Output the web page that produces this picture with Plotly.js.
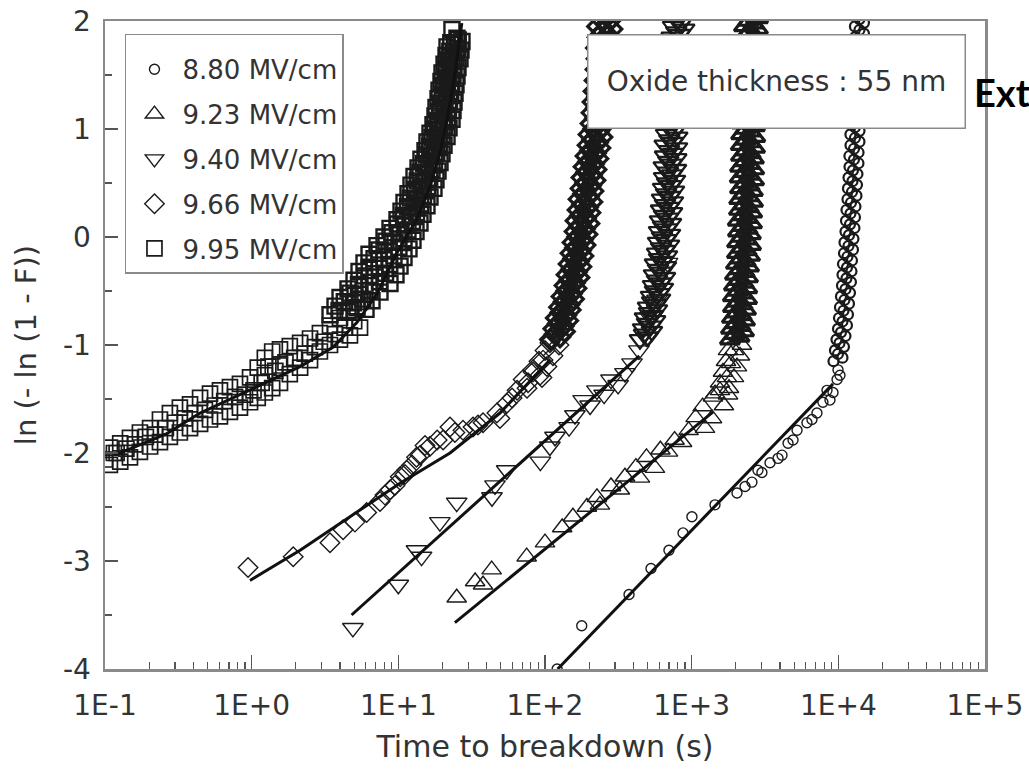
<!DOCTYPE html>
<html><head><meta charset="utf-8">
<script src="https://cdn.plot.ly/plotly-3.0.1.min.js"></script>
<style>html,body{margin:0;padding:0;background:#fff}</style>
</head><body>
<div id="chart" style="width:1029px;height:770px"></div>
<script>
// ---------------- data (time to breakdown in s, Weibull ordinate ln(-ln(1-F))) ----------------
const seriesNames = ["8.80 MV/cm", "9.23 MV/cm", "9.40 MV/cm", "9.66 MV/cm", "9.95 MV/cm"];
const xTickVals = [0.1, 1, 10, 100, 1000, 10000, 100000];
const xTickText = ["1E-1", "1E+0", "1E+1", "1E+2", "1E+3", "1E+4", "1E+5"];
const yTickVals = [-4, -3, -2, -1, 0, 1, 2];
const yTickText = ["-4", "-3", "-2", "-1", "0", "1", "2"];

// ---- 8.80 MV/cm (circles) ----
const t880Low = [121,178,374,528,700,873,1004,1442,2037,2312,2576,2831,3013,3420,3880,4130,4540,4910,5230,6110,6607,7150,7850,8370,8770,9200,9800,9950,10260];
const y880Low = [-4.00,-3.60,-3.31,-3.07,-2.90,-2.74,-2.59,-2.48,-2.37,-2.31,-2.27,-2.16,-2.18,-2.09,-2.05,-2.02,-1.91,-1.88,-1.79,-1.72,-1.69,-1.63,-1.53,-1.42,-1.51,-1.44,-1.32,-1.23,-1.28];
const t880Steep = [9269,9945,10671, 9488,10180,10923, 9715,10424,11185, 9944,10670,11449, 10103,10840,11631, 10261,11010,11814,
  10425,11186,12003, 10590,11363,12192, 10674,11453,12289, 10758,11543,12386, 10928,11725,12581, 11013,11817,12680,
  11187,12003,12879, 11275,12098,12981, 11364,12193,13083, 11546,12388,13292, 11637,12486,13397, 11728,12584,13503,
  11914,12783,13716, 11900,12790,13730, 12102,12985,13933, 12090,12975,13945, 12293,13190,14153, 12280,13200,14140,
  12487,13398,14376, 12495,13390,14385, 12586,13504,14490, 12685,13610,14604, 12784,13717,14718, 12790,13710,14725,
  12987,13934,14951, 12980,13940,14945];
const y880Steep = [-1.15,-1.083,-1.117, -1.05,-0.983,-1.017, -0.95,-0.883,-0.917, -0.85,-0.783,-0.817, -0.75,-0.683,-0.717, -0.65,-0.583,-0.617,
  -0.55,-0.483,-0.517, -0.45,-0.383,-0.417, -0.35,-0.283,-0.317, -0.25,-0.183,-0.217, -0.15,-0.083,-0.117, -0.05,0.017,-0.017,
  0.05,0.117,0.083, 0.15,0.217,0.183, 0.25,0.317,0.283, 0.35,0.417,0.383, 0.45,0.517,0.483, 0.55,0.617,0.583,
  0.65,0.717,0.683, 0.75,0.817,0.783, 0.85,0.917,0.883, 0.95,1.017,0.983, 1.05,1.117,1.083, 1.15,1.217,1.183,
  1.25,1.317,1.283, 1.35,1.417,1.383, 1.45,1.517,1.483, 1.55,1.617,1.583, 1.65,1.717,1.683, 1.75,1.817,1.783,
  1.85,1.917,1.883, 1.95,2.017,1.983];

// ranks of the steep (intrinsic) part shared by the 9.23 / 9.40 / 9.66 MV/cm samples
const ySteep4 = [-0.95,-0.90,-0.925,-0.875, -0.85,-0.80,-0.825,-0.775, -0.75,-0.70,-0.725,-0.675, -0.65,-0.60,-0.625,-0.575,
  -0.55,-0.50,-0.525,-0.475, -0.45,-0.40,-0.425,-0.375, -0.35,-0.30,-0.325,-0.275, -0.25,-0.20,-0.225,-0.175,
  -0.15,-0.10,-0.125,-0.075, -0.05,0.00,-0.025,0.025, 0.05,0.10,0.075,0.125, 0.15,0.20,0.175,0.225,
  0.25,0.30,0.275,0.325, 0.35,0.40,0.375,0.425, 0.45,0.50,0.475,0.525, 0.55,0.60,0.575,0.625,
  0.65,0.70,0.675,0.725, 0.75,0.80,0.775,0.825, 0.85,0.90,0.875,0.925, 0.95,1.00,0.975,1.025,
  1.05,1.10,1.075,1.125, 1.15,1.20,1.175,1.225, 1.25,1.30,1.275,1.325, 1.35,1.40,1.375,1.425,
  1.45,1.50,1.475,1.525, 1.55,1.60,1.575,1.625, 1.65,1.70,1.675,1.725, 1.75,1.80,1.775,1.825,
  1.85,1.90,1.875,1.925, 1.95,2.00,1.975,2.025];

// ---- 9.23 MV/cm (up triangles) ----
const t923Low = [25.0,33.4,37.8,43.3,75,100,131,155,193,226,237,282,324,351,417,444,492,562,612,690,765,860,953,1064,1188,1233,1376,1397,1560,1660,1740,1770,1853,1945,
  1443,1797,1560,1943,1635,2037,1714,2135,1769,2203];
const y923Low = [-3.34,-3.19,-3.22,-3.08,-2.96,-2.83,-2.69,-2.59,-2.50,-2.41,-2.48,-2.31,-2.34,-2.22,-2.13,-2.23,-2.04,-2.14,-1.97,-1.99,-1.88,-1.90,-1.79,-1.67,-1.57,-1.77,-1.68,-1.48,-1.42,-1.56,-1.30,-1.46,-1.17,-1.05,
  -1.45,-1.40,-1.35,-1.30,-1.25,-1.20,-1.15,-1.10,-1.05,-1.00];
const t923Steep = [1825,1959,2118,2273, 1855,1991,2153,2310, 1883,2022,2186,2346, 1914,2055,2221,2384, 1910,2060,2215,2390,
  1944,2088,2257,2422, 1975,2120,2292,2460, 2006,2154,2329,2499, 2037,2188,2365,2538, 2040,2180,2370,2530,
  2070,2222,2402,2578, 2065,2230,2395,2585, 2103,2258,2441,2619, 2110,2250,2447,2612, 2136,2293,2479,2661,
  2130,2300,2472,2668, 2140,2288,2485,2655, 2170,2330,2519,2703, 2164,2336,2512,2710, 2176,2325,2525,2697,
  2204,2367,2558,2745, 2198,2372,2552,2752, 2210,2360,2565,2740, 2239,2404,2599,2789, 2233,2410,2592,2796,
  2245,2398,2606,2782, 2275,2443,2641,2834, 2270,2450,2635,2840, 2281,2437,2648,2828, 2275,2443,2641,2834];

// ---- 9.40 MV/cm (down triangles) ----
const t940Low = [4.9,10.0,13.3,14.4,19.2,25.0,43.5,45.6,54.8,93,108,117,146,160,182,203,226,253,282,315,351,392,437,492,520,581,613,684];
const y940Low = [-3.62,-3.22,-2.90,-2.96,-2.64,-2.46,-2.41,-2.30,-2.16,-2.08,-1.94,-1.85,-1.76,-1.65,-1.51,-1.56,-1.42,-1.46,-1.32,-1.37,-1.26,-1.17,-1.05,-0.93,-0.74,-0.58,-0.43,-0.24];
const t940Steep = [444,473,504,536, 466,496,528,563, 480,512,545,580, 504,537,572,609, 528,562,599,637,
  545,580,618,658, 553,589,627,668, 562,599,638,679, 581,618,658,701, 590,628,669,712,
  599,638,679,723, 608,648,690,735, 618,658,701,746, 628,669,712,758, 638,679,723,770,
  648,690,735,782, 645,692,732,785, 658,701,746,795, 655,704,743,798, 669,712,759,808,
  679,723,770,820, 676,726,767,823, 690,735,782,833, 701,746,795,846, 712,758,807,859,
  723,770,820,874, 720,773,817,877, 734,782,833,887, 731,785,830,890, 746,795,846,901];

// ---- 9.66 MV/cm (diamonds) ----
const t966Low = [0.945,1.92,3.42,4.2,5.06,6.08,7.5,8.11,8.8,9.48,10.3,11.1,11.4,12.4,13.3,14.1,15.2,16.4,18.4,20.2,22.5,24.3,27.6,32.3,34.9,37.8,47,49.3,55,59.6,64.5,71,75.4,82.8,92.5,97,108,
  76.6,95.4,82.8,103.1,91.0,113.4,100.0,124.5];
const y966Low = [-3.06,-2.96,-2.83,-2.71,-2.64,-2.55,-2.45,-2.39,-2.34,-2.30,-2.22,-2.20,-2.16,-2.11,-2.04,-2.02,-1.93,-1.94,-1.88,-1.88,-1.76,-1.81,-1.79,-1.76,-1.74,-1.72,-1.63,-1.68,-1.54,-1.49,-1.42,-1.32,-1.40,-1.23,-1.28,-1.14,-0.98,
  -1.35,-1.30,-1.25,-1.20,-1.15,-1.10,-1.05,-1.00];
const t966Steep = [109.0,117.1,126.6,135.8, 114.8,123.2,133.2,143.0, 119.3,128.1,138.5,148.7, 125.6,134.9,145.8,156.5,
  130.6,140.3,151.6,162.7, 136.9,147.0,158.9,170.5, 141.2,151.6,163.9,175.9, 145.8,156.5,169.2,181.6,
  150.4,161.5,174.6,187.4, 155.2,166.6,180.1,193.3, 160.2,172.0,186.0,199.5, 162.7,174.7,188.9,202.7,
  167.9,180.3,194.9,209.1, 170.5,183.1,197.9,212.4, 176.1,189.0,204.4,219.3, 178.8,192.0,207.6,222.8,
  184.5,198.1,214.1,229.8, 190.3,204.3,220.9,237.0, 196.5,211.0,228.1,244.7, 199.5,214.2,231.6,248.5,
  205.9,221.1,239.0,256.5, 209.2,224.6,242.8,260.6, 212.5,228.2,246.7,264.7, 215.8,231.7,250.5,268.8,
  219.3,235.4,254.5,273.1, 222.7,239.2,258.5,277.4, 226.2,242.9,262.6,281.8, 224.0,245.0,260.0,283.0,
  229.8,246.8,266.8,286.3, 228.0,248.0,264.0,288.0];

// ---- 9.95 MV/cm (squares) ----
const t995Low = [0.100,0.115,0.108,0.108,0.127,0.127,0.148,0.148,0.173,0.173,0.203,0.203,0.237,0.237,0.277,0.277,0.324,0.324,0.380,0.380,0.445,0.445,
  0.520,0.520,0.608,0.608,0.711,0.711,0.832,0.832,0.975,0.975,1.10,1.10,1.23,1.23,1.23,1.38,1.38,1.56,1.56,1.56,1.82,1.82,2.14,2.14,2.50,2.50,
  2.92,2.92,3.42,3.42,4.00,4.00,4.68,4.68,5.48,5.48,
  0.16,0.22,0.30,0.41,0.56,0.77,1.03,1.45,1.95,2.7,3.7,5.0,
  0.12,0.14,0.19,0.26,0.35,0.48,0.65,0.9,1.17,1.3,1.7,2.3,3.1,4.3];
const y995Low = [-2.06,-2.00,-1.95,-2.11,-1.91,-2.08,-1.86,-2.04,-1.81,-1.99,-1.77,-1.94,-1.69,-1.90,-1.63,-1.85,-1.58,-1.81,-1.55,-1.77,-1.49,-1.73,
  -1.45,-1.69,-1.42,-1.66,-1.39,-1.62,-1.36,-1.58,-1.30,-1.53,-1.21,-1.49,-1.12,-1.44,-1.28,-1.06,-1.40,-1.04,-1.35,-1.19,-1.01,-1.27,-0.98,-1.21,-0.94,-1.14,
  -0.89,-1.06,-0.82,-1.00,-0.75,-0.95,-0.68,-0.91,-0.60,-0.84,
  -1.92,-1.83,-1.72,-1.63,-1.56,-1.48,-1.42,-1.24,-1.12,-1.02,-0.90,-0.78,
  -2.00,-1.96,-1.85,-1.77,-1.68,-1.60,-1.52,-1.46,-1.35,-1.20,-1.16,-1.08,-0.97,-0.84];
const t995Steep = [3.421,4.539,6.021, 3.701,4.949,6.616, 4.003,5.479,7.499, 4.539,6.311,8.774, 4.988,6.935,9.641, 5.394,7.44,10.27, 5.835,7.986,10.93,
  6.311,8.638,11.82, 7.156,9.491,12.59, 7.986,10.27,13.20, 8.774,11.10,14.05, 9.794,12.01,14.73, 10.43,12.79,15.68, 10.93,13.40,16.44,
  11.64,14.27,17.50, 12.20,14.84,18.06, 12.79,15.44,18.65, 13.62,16.18,19.24, 14.27,16.83,19.85, 15.20,17.64,20.49, 15.68,18.36,21.48,
  16.44,19.09,22.16, 17.23,20.01,23.23, 17.78,20.49,23.60, 18.06,20.81,23.97, 18.65,21.30,24.35, 18.94,21.64,24.73, 19.54,22.16,25.12,
  19.85,22.51,25.52, 20.49,23.23,26.33, 21.14,23.79,26.75, 21.48,24.16,27.17, 25.1,23.2,
  3.94,5.23, 4.28,5.72, 4.68,6.41, 5.35,7.44, 5.88,8.18, 6.33,8.74, 6.83,9.34, 7.38,10.10, 8.24,10.93, 9.06,11.64,
  9.87,12.49, 10.85,13.30, 11.55,14.16, 12.10,14.84, 12.89,15.80, 13.46,16.37, 14.05,16.97, 14.84,17.64, 15.50,18.28,
  16.37,19.01, 16.97,19.86, 17.72,20.57, 18.57,21.56, 19.09,21.99, 19.39,22.33, 19.93,22.77, 20.25,23.13, 20.81,23.59,
  21.14,23.97, 21.82,24.73, 22.43,25.23, 22.78,25.62];
const y995Steep = [-0.72,-0.69,-0.67, -0.64,-0.61,-0.59, -0.56,-0.53,-0.51, -0.48,-0.45,-0.43, -0.40,-0.37,-0.35, -0.32,-0.29,-0.27, -0.24,-0.21,-0.19,
  -0.16,-0.13,-0.11, -0.08,-0.05,-0.03, 0.00,0.03,0.05, 0.08,0.11,0.13, 0.16,0.19,0.21, 0.24,0.27,0.29, 0.32,0.35,0.37,
  0.40,0.43,0.45, 0.48,0.51,0.53, 0.56,0.59,0.61, 0.64,0.67,0.69, 0.72,0.75,0.77, 0.80,0.83,0.85, 0.88,0.91,0.93,
  0.96,0.99,1.01, 1.04,1.07,1.09, 1.12,1.15,1.17, 1.20,1.23,1.25, 1.28,1.31,1.33, 1.36,1.39,1.41, 1.44,1.47,1.49,
  1.52,1.55,1.57, 1.60,1.63,1.65, 1.68,1.71,1.73, 1.76,1.79,1.81, 1.84,1.92,
  -0.68,-0.655, -0.60,-0.575, -0.52,-0.495, -0.44,-0.415, -0.36,-0.335, -0.28,-0.255, -0.20,-0.175, -0.12,-0.095, -0.04,-0.015, 0.04,0.065,
  0.12,0.145, 0.20,0.225, 0.28,0.305, 0.36,0.385, 0.44,0.465, 0.52,0.545, 0.60,0.625, 0.68,0.705, 0.76,0.785,
  0.84,0.865, 0.92,0.945, 1.00,1.025, 1.08,1.105, 1.16,1.185, 1.24,1.265, 1.32,1.345, 1.40,1.425, 1.48,1.505,
  1.56,1.585, 1.64,1.665, 1.72,1.745, 1.80,1.825];

// ---- fitted lines ----
const fit880t = [122, 9200], fit880y = [-4.00, -1.36];
const fit923t = [24.3, 1400], fit923y = [-3.57, -1.62];
const fit940t = [4.8, 440], fit940y = [-3.50, -1.10];
const fit966t = [0.974, 2.14, 4.68, 10.27, 22.51, 49.3, 108];
const fit966y = [-3.18, -2.90, -2.59, -2.28, -2.00, -1.63, -1.14];
const fit995t = [0.117, 0.264, 0.445, 0.746, 1.26, 2.14, 3.6, 5.23, 7.27, 9.75, 13.3, 16.4, 19.2, 21.4, 23.6, 25.5, 27.1];
const fit995y = [-2.02, -1.82, -1.63, -1.49, -1.35, -1.20, -1.02, -0.79, -0.51, -0.15, 0.16, 0.46, 0.78, 1.08, 1.39, 1.70, 1.98];

// ---------------- figure ----------------
const FONT = "DejaVu Sans";
const INK = "#1a1a1a";
const TXT = "#333333";
const AX = "#8a8a8a";

function mk(name, t, y, symbol, size, lw, inLegend) {
  return {type: "scatter", mode: "markers", name: name, x: t, y: y, legendgroup: name, showlegend: inLegend,
    marker: {symbol: symbol, size: size, color: INK, line: {color: INK, width: lw}}};
}
function fit(t, y) {
  return {type: "scatter", mode: "lines", x: t, y: y, showlegend: false, hoverinfo: "skip",
    line: {color: "#111111", width: 3}};
}

const traces = [
  mk(seriesNames[0], t880Low, y880Low, "circle-open", 10, 1.4, true),
  mk(seriesNames[1], t923Low, y923Low, "triangle-up-open", 17, 1.4, true),
  mk(seriesNames[2], t940Low, y940Low, "triangle-down-open", 18, 1.4, true),
  mk(seriesNames[3], t966Low, y966Low, "diamond-open", 15, 1.4, true),
  mk(seriesNames[4], t995Low, y995Low, "square-open", 15, 1.7, true),
  mk(seriesNames[0], t880Steep, y880Steep, "circle-open", 10, 2.2, false),
  mk(seriesNames[1], t923Steep, ySteep4, "triangle-up-open", 17, 3.2, false),
  mk(seriesNames[2], t940Steep, ySteep4, "triangle-down-open", 18, 2.3, false),
  mk(seriesNames[3], t966Steep, ySteep4, "diamond-open", 15, 3.2, false),
  mk(seriesNames[4], t995Steep, y995Steep, "square-open", 15, 2.4, false),
  fit(fit880t, fit880y), fit(fit923t, fit923y), fit(fit940t, fit940y), fit(fit966t, fit966y), fit(fit995t, fit995y)
];

const minorX = [];
for (let d = -1; d < 5; d++) for (let k = 2; k <= 9; k++) minorX.push(k * Math.pow(10, d));

const layout = {
  width: 1029, height: 770,
  margin: {l: 105, r: 44, t: 21, b: 101},
  paper_bgcolor: "#ffffff", plot_bgcolor: "#ffffff",
  font: {family: FONT, color: TXT, size: 25},
  showlegend: true,
  xaxis: {
    type: "log", range: [-1, 5], tickmode: "array", tickvals: xTickVals, ticktext: xTickText,
    ticks: "inside", ticklen: 14, tickwidth: 1.5, tickcolor: "#555",
    showline: true, linecolor: AX, linewidth: 2.5, mirror: true,
    showgrid: false, zeroline: false, ticklabelstandoff: 10,
    tickfont: {family: FONT, size: 28, color: TXT},
    minor: {ticks: "inside", ticklen: 7, tickwidth: 1.2, tickcolor: "#555", tickmode: "array", tickvals: minorX, showgrid: false},
    title: {text: "Time to breakdown (s)", font: {family: FONT, size: 30, color: TXT}, standoff: 15}
  },
  yaxis: {
    range: [-4, 2], tickmode: "array", tickvals: yTickVals, ticktext: yTickText,
    ticks: "inside", ticklen: 13, tickwidth: 1.5, tickcolor: "#555",
    showline: true, linecolor: AX, linewidth: 2.5, mirror: true,
    showgrid: false, zeroline: false, ticklabelstandoff: 6,
    tickfont: {family: FONT, size: 28, color: TXT},
    minor: {ticks: "inside", ticklen: 7, tickwidth: 1.2, tickcolor: "#555", dtick: 0.5, showgrid: false},
    title: {text: "ln (- ln (1 - F))", font: {family: FONT, size: 29, color: TXT}, standoff: 18}
  },
  legend: {
    x: 0.0227, y: 0.98, xanchor: "left", yanchor: "top",
    bgcolor: "#ffffff", bordercolor: AX, borderwidth: 1.5,
    font: {family: FONT, size: 26, color: TXT},
    tracegroupgap: 8, itemwidth: 46, traceorder: "grouped",
    title: {text: " ", font: {size: 8}}
  },
  annotations: [
    {xref: "paper", yref: "paper", x: 0.7636, y: 0.9059, xanchor: "center", yanchor: "middle",
     text: "Oxide thickness : 55 nm", showarrow: false,
     font: {family: FONT, size: 28, color: TXT},
     bgcolor: "#ffffff", bordercolor: AX, borderwidth: 1.5, borderpad: 2, width: 372, height: 88},
    {xref: "paper", yref: "paper", x: 0.985, y: 0.8904, xanchor: "left", yanchor: "middle",
     text: "<b>Ext</b>", showarrow: false,
     font: {family: "Lato", size: 38, color: "#000000"}}
  ]
};

Plotly.newPlot("chart", traces, layout, {staticPlot: true, displayModeBar: false});
</script>
</body></html>
